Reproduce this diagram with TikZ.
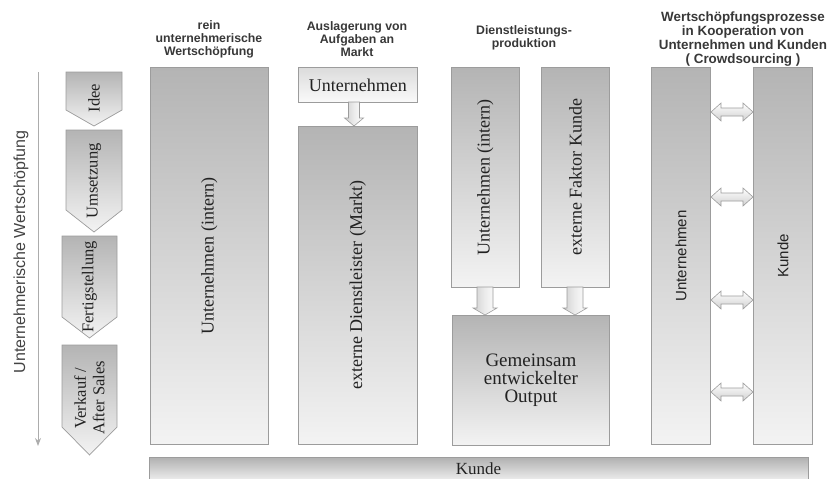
\documentclass[tikz,border=0pt]{standalone}
\usepackage{fontspec}
\usepackage{graphicx}
\setmainfont{Liberation Serif}
\setsansfont{Liberation Sans}
\usetikzlibrary{arrows.meta,calc}
\definecolor{bord}{HTML}{9C9C9C}
\definecolor{dark}{HTML}{B4B4B4}
\definecolor{light}{HTML}{F3F3F3}
\definecolor{txt}{HTML}{222222}
\definecolor{arrfill}{HTML}{D0D0D0}
\newcommand\phaseshape[5]{%
  \shade[draw=bord, line width=0.7pt, top color=dark, bottom color=light]
    (#1,#3) -- (#2,#3) -- (#2,#4) -- ({(#1+#2)/2},#5) -- (#1,#4) -- cycle;}
% down block arrow: cx, ytop, ytip, shaft width, head width, head length
\newcommand\dnblock[6]{%
  \shade[draw=bord, line width=0.6pt, left color=arrfill, right color=white, middle color=white!85!gray]
    ({#1-#4/2},#2) -- ({#1+#4/2},#2) -- ({#1+#4/2},{#3-#6}) -- ({#1+#5/2},{#3-#6}) -- (#1,#3)
    -- ({#1-#5/2},{#3-#6}) -- ({#1-#4/2},{#3-#6}) -- cycle;}
% left-right block arrow: x1, x2, cy, shaft height, head height, head length
\newcommand\lrblock[6]{%
  \shade[draw=bord, line width=0.6pt, top color=white, bottom color=arrfill]
    (#1,#3) -- ({#1+#6},{#3-#5/2}) -- ({#1+#6},{#3-#4/2}) -- ({#2-#6},{#3-#4/2}) -- ({#2-#6},{#3-#5/2})
    -- (#2,#3) -- ({#2-#6},{#3+#5/2}) -- ({#2-#6},{#3+#4/2}) -- ({#1+#6},{#3+#4/2}) -- ({#1+#6},{#3+#5/2}) -- cycle;}
\begin{document}
\begin{tikzpicture}[x=1pt,y=-1pt,
  box/.style={draw=bord, line width=0.8pt, top color=dark, bottom color=light, inner sep=0pt, anchor=north west},
  lightbox/.style={draw=bord, line width=0.8pt, top color=gray!28, bottom color=white!96!gray, inner sep=0pt, anchor=north west},
  serif/.style={font=\fontsize{18}{19}\selectfont, text=txt},
  vserif/.style={serif, rotate=90},
  vsans/.style={font=\sffamily\fontsize{15}{16}\selectfont, text=txt, rotate=90},
  ptxt/.style={font=\fontsize{16.5}{18.5}\selectfont, text=txt, rotate=90, align=center},
  hdr/.style={font=\sffamily\bfseries\fontsize{12.3}{13}\selectfont, text=txt!90, align=center},
  hdrb/.style={font=\sffamily\bfseries\fontsize{13.4}{14}\selectfont, text=txt!90, align=center}
]
\useasboundingbox (0,0) rectangle (833,479);

% vertical axis
\coordinate (ax1) at (38,72);
\coordinate (ax2) at (38,446);
\draw[gray!65, line width=1pt, -{Stealth[length=8pt,width=6pt]}] (ax1) -- (ax2);
\node[font=\sffamily\fontsize{16}{16}\selectfont, text=txt!85, rotate=90] (axl) at (21,252) {Unternehmerische Wertschöpfung};

% phases
\phaseshape{66}{122}{72}{110}{126}
\node[ptxt] (p1) at (94,98) {Idee};
\phaseshape{66}{122}{130}{210}{232}
\node[ptxt] (p2) at (94,181) {Umsetzung};
\phaseshape{62}{117}{236}{317}{338}
\node[ptxt] (p3) at (89.5,287) {Fertigstellung};
\phaseshape{62}{117}{345}{427}{455}
\node[ptxt] (p4) at (89.5,398) {Verkauf /\\After Sales};

% headers
\node[hdr] (h1) at (209,39.5) {rein\\unternehmerische\\Wertschöpfung};
\node[hdr] (h2) at (357,39.5) {Auslagerung von\\Aufgaben an\\Markt};
\node[hdr] (h3) at (524,37.5) {Dienstleistungs-\\produktion};
\node[hdrb] (h4) at (743,39.5) {Wertschöpfungsprozesse\\in Kooperation von\\Unternehmen und Kunden\\( Crowdsourcing )};

% column 1
\node[box, minimum width=118pt, minimum height=377pt] (c1) at (150,67) {};
\node[vserif] (c1t) at (c1.center) {Unternehmen (intern)};

% column 2
\node[lightbox, minimum width=119pt, minimum height=35pt] (u2) at (298,67) {};
\node[serif] (u2t) at (u2.center) {Unternehmen};
\node[box, minimum width=119pt, minimum height=318pt] (d2) at (298,126) {};
\node[vserif] (d2t) at (d2.center) {externe Dienstleister (Markt)};
\dnblock{354}{102}{126}{11}{19}{8}

% column 3
\node[box, minimum width=68pt, minimum height=220pt] (u3) at (451,67) {};
\node[vserif] (u3t) at (u3.center) {Unternehmen (intern)};
\node[box, minimum width=68pt, minimum height=220pt] (k3) at (541,67) {};
\node[vserif] (k3t) at (k3.center) {externe Faktor Kunde};
\node[box, minimum width=157pt, minimum height=130pt] (g3) at (452,315) {};
\node[serif, align=center, font=\fontsize{19}{18}\selectfont] (g3t) at (g3.center) {Gemeinsam\\entwickelter\\Output};
\dnblock{485}{287}{315}{16}{24}{7}
\dnblock{575}{287}{315}{16}{24}{7}

% column 4
\node[box, minimum width=59pt, minimum height=377pt] (u4) at (651,67) {};
\node[vsans] (u4t) at (u4.center) {Unternehmen};
\node[box, minimum width=59pt, minimum height=377pt] (k4) at (753,67) {};
\node[vsans] (k4t) at (k4.center) {Kunde};
\lrblock{711}{753}{112}{8}{18}{10}
\lrblock{711}{753}{197}{8}{18}{10}
\lrblock{711}{753}{300}{8}{18}{10}
\lrblock{711}{753}{392}{8}{18}{10}

% bottom bar
\shade[top color=gray!62, bottom color=gray!12] (149,457) rectangle (808,481);
\draw[bord, line width=0.8pt] (149,481) -- (149,457) -- (808,457) -- (808,481);
\node[serif, font=\fontsize{17}{18}\selectfont] (kb) at (478.5,469) {Kunde};
\end{tikzpicture}
\end{document}
